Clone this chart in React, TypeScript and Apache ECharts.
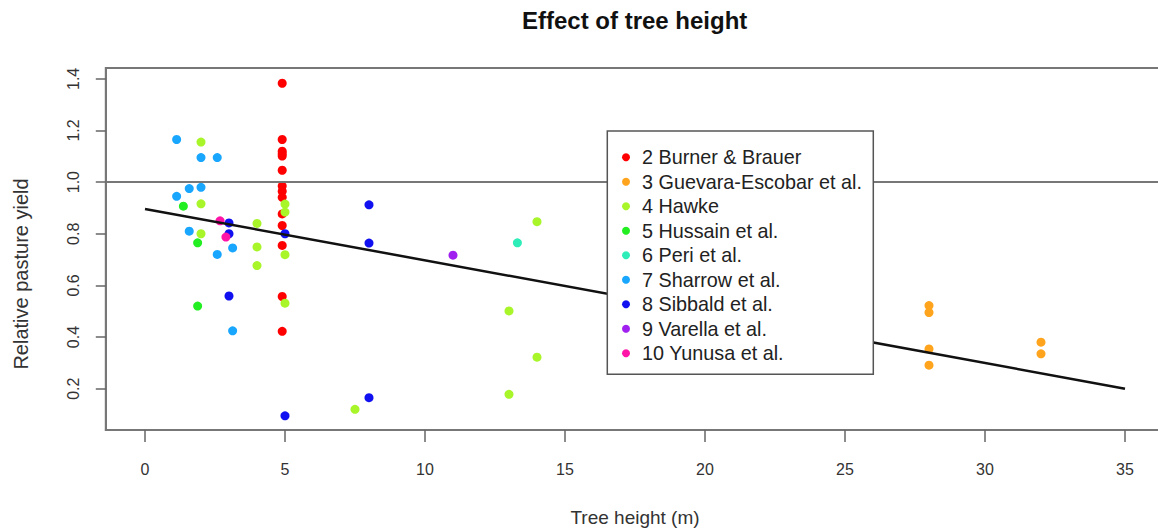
import React, { useEffect, useRef } from "react";
import * as echarts from "echarts";

// ---- data ----
const studyNames = [
  "2 Burner & Brauer",
  "3 Guevara-Escobar et al.",
  "4 Hawke",
  "5 Hussain et al.",
  "6 Peri et al.",
  "7 Sharrow et al.",
  "8 Sibbald et al.",
  "9 Varella et al.",
  "10 Yunusa et al.",
];

const burner: [number, number][] = [
  [4.9, 1.383], [4.9, 1.165], [4.9, 1.12], [4.9, 1.11], [4.9, 1.101],
  [4.9, 1.046], [4.9, 0.985], [4.9, 0.965], [4.9, 0.941], [4.9, 0.877],
  [4.9, 0.832], [4.9, 0.755], [4.9, 0.557], [4.9, 0.422],
];
const guevara: [number, number][] = [
  [28, 0.522], [28, 0.495], [28, 0.354], [28, 0.291], [32, 0.38], [32, 0.335],
];
const hawke: [number, number][] = [
  [2.0, 1.155], [2.0, 0.916], [2.0, 0.8], [4.0, 0.84], [4.0, 0.749],
  [4.0, 0.677], [5.0, 0.915], [5.0, 0.884], [5.0, 0.719], [5.0, 0.531],
  [7.5, 0.12], [13.0, 0.501], [13.0, 0.178], [14.0, 0.847], [14.0, 0.322],
];
const hussain: [number, number][] = [
  [1.37, 0.907], [1.88, 0.765], [1.88, 0.52],
];
const peri: [number, number][] = [[13.3, 0.765]];
const sharrow: [number, number][] = [
  [1.13, 1.165], [2.0, 1.095], [2.58, 1.095], [1.58, 0.975], [2.0, 0.98],
  [1.13, 0.945], [1.58, 0.81], [3.13, 0.745], [2.58, 0.72], [3.13, 0.424],
];
const sibbald: [number, number][] = [
  [3.0, 0.842], [3.0, 0.8], [3.0, 0.559], [5.0, 0.8], [5.0, 0.095],
  [8.0, 0.912], [8.0, 0.764], [8.0, 0.165],
];
const varella: [number, number][] = [[11.0, 0.717]];
const yunusa: [number, number][] = [[2.68, 0.85], [2.89, 0.787]];

const studyData = [burner, guevara, hawke, hussain, peri, sharrow, sibbald, varella, yunusa];

const fitLine: [number, number][] = [[0, 0.896], [35, 0.2]];
const referenceLevel = 1.0;

const xTicks = [0, 5, 10, 15, 20, 25, 30, 35];
const yTicks = [0.2, 0.4, 0.6, 0.8, 1.0, 1.2, 1.4];

// ---- styles ----
const colors = [
  "#FF0000", "#FFA41C", "#A8F52A", "#22EE22", "#2EEDB8",
  "#18A6FF", "#1010F0", "#A020F0", "#FF14A8",
];
const FONT = "'Liberation Sans', Arial, Helvetica, sans-serif";

export default function App() {
  const ref = useRef<HTMLDivElement>(null);

  useEffect(() => {
    if (!ref.current) return;
    const chart = echarts.init(ref.current, null, { renderer: "svg" });

    const scatterSeries = studyNames.map((name, i) => ({
      type: "scatter",
      name,
      data: studyData[i],
      symbol: "circle",
      symbolSize: 9,
      itemStyle: { color: colors[i], opacity: 1 },
      z: 3,
    }));

    chart.setOption({
      animation: false,
      backgroundColor: "#ffffff",
      textStyle: { fontFamily: FONT },
      title: {
        text: "Effect of tree height",
        left: 522,
        top: 8,
        padding: 0,
        textStyle: { fontFamily: FONT, fontSize: 24, fontWeight: "bold", color: "#111" },
      },
      grid: {
        left: 105.8,
        top: 68,
        width: 1058.4,
        height: 364.5,
        show: true,
        borderColor: "#777",
        borderWidth: 2,
        backgroundColor: "transparent",
      },
      xAxis: {
        type: "value",
        min: -1.4,
        max: 36.4,
        name: "Tree height (m)",
        nameLocation: "middle",
        nameGap: 78,
        nameTextStyle: { fontFamily: FONT, fontSize: 19, color: "#333" },
        axisLine: { show: true, onZero: false, lineStyle: { color: "#777", width: 2 } },
        axisTick: { show: true, customValues: xTicks, length: 12, lineStyle: { color: "#666", width: 1.5 } },
        axisLabel: {
          customValues: xTicks,
          fontFamily: FONT,
          fontSize: 16,
          color: "#333",
          margin: 31,
        },
        splitLine: { show: false },
      },
      yAxis: {
        type: "value",
        min: 0.04,
        max: 1.442,
        name: "Relative pasture yield",
        nameLocation: "middle",
        nameGap: 75,
        nameTextStyle: { fontFamily: FONT, fontSize: 20, color: "#333", padding: [0, 50, 0, 0] },
        axisLine: { show: true, onZero: false, lineStyle: { color: "#777", width: 2 } },
        axisTick: { show: true, customValues: yTicks, length: 10, lineStyle: { color: "#666", width: 1.5 } },
        axisLabel: {
          customValues: yTicks,
          formatter: (v: number) => v.toFixed(1),
          rotate: 90,
          fontFamily: FONT,
          fontSize: 16,
          color: "#333",
          margin: 24,
        },
        splitLine: { show: false },
      },
      legend: {
        orient: "vertical",
        left: 622,
        top: 147.3,
        padding: 0,
        itemGap: 4.5,
        itemWidth: 22,
        itemHeight: 8,
        icon: "circle",
        z: 60,
        data: studyNames,
        textStyle: { fontFamily: FONT, fontSize: 19.8, lineHeight: 20, color: "#222" },
        selectedMode: false,
      },
      graphic: {
        elements: [
          {
            type: "rect",
            z: 50,
            shape: { x: 607.3, y: 131, width: 266, height: 243.3 },
            style: { fill: "#fff", stroke: "#555", lineWidth: 1.5 },
            silent: true,
          },
        ],
      },
      series: [
        ...scatterSeries,
        {
          type: "line",
          data: fitLine,
          symbol: "none",
          lineStyle: { color: "#111", width: 2.5 },
          z: 4,
          silent: true,
          markLine: {
            silent: true,
            symbol: ["none", "none"],
            label: { show: false },
            lineStyle: { color: "#777", width: 2, type: "solid" },
            data: [{ yAxis: referenceLevel }],
          },
        },
      ],
    });

    return () => chart.dispose();
  }, []);

  return (
    <div style={{ position: "absolute", left: 0, top: 0, width: 1158, height: 532, overflow: "hidden" }}>
      <div ref={ref} style={{ width: 1172, height: 532 }} />
    </div>
  );
}
